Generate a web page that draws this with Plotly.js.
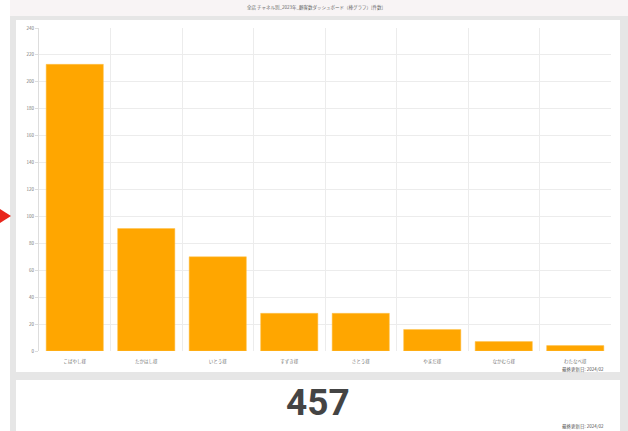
<!DOCTYPE html>
<html><head><meta charset="utf-8">
<script src="https://cdn.plot.ly/plotly-3.0.1.min.js"></script>
<style>
html,body{margin:0;padding:0;background:#ffffff;width:628px;height:431px;overflow:hidden;}
#wrap{position:relative;width:628px;height:431px;}
.bg{position:absolute;}
#chart{position:absolute;left:0;top:0;width:628px;height:431px;}
</style></head>
<body>
<div id="wrap">
  <div class="bg" style="left:10px;top:0;width:618px;height:16px;background:#f8f4f5;"></div>
  <div class="bg" style="left:10px;top:16px;width:618px;height:415px;background:#e6e6e6;"></div>
  <div class="bg" style="left:16px;top:20px;width:604px;height:352px;background:#ffffff;"></div>
  <div class="bg" style="left:16px;top:380px;width:604px;height:51px;background:#ffffff;"></div>
  <div class="bg" style="left:0;top:209px;width:0;height:0;border-top:7px solid transparent;border-bottom:7px solid transparent;border-left:11px solid #e8261c;"></div>
  <div id="chart"></div>
</div>
<script>
var categories = ["こばやし様", "たかはし様", "いとう様", "すずき様", "さとう様", "やまだ様", "なかむら様", "わたなべ様"];
var counts = [213, 91, 70, 28, 28, 16, 7, 4];
var yTicks = [0, 20, 40, 60, 80, 100, 120, 140, 160, 180, 200, 220, 240];
var titleText = "全店 チャネル別_2023年_顧客数ダッシュボード（棒グラフ）[件数]";
var totalLabel = "457";
var footerText = "最終更新日: 2024/02";

var W = 628, H = 431, L = 39, R = 17, T = 28, B = 80;
var pw = W - L - R, ph = H - T - B;
function px(x){ return (x - L) / pw; }
function py(y){ return (H - B - y) / ph; }

var trace = {
  type: "bar",
  x: categories,
  y: counts,
  marker: {color: "#FFA600", line: {color: "#FFC24D", width: 0.5}},
  hoverinfo: "x+y"
};

var layout = {
  width: W, height: H,
  margin: {l: L, r: R, t: T, b: B, pad: 0},
  paper_bgcolor: "rgba(0,0,0,0)",
  plot_bgcolor: "rgba(0,0,0,0)",
  showlegend: false,
  bargap: 0.2,
  font: {family: "Noto Sans CJK JP, Noto Sans, sans-serif", color: "#777", size: 5},
  xaxis: {
    type: "category",
    tickson: "boundaries",
    showgrid: true, gridcolor: "#ececec", gridwidth: 1,
    ticks: "", showline: false, zeroline: false,
    tickfont: {size: 4.5, color: "#777"},
    ticklabelstandoff: 6
  },
  yaxis: {
    range: [0, 240],
    tickvals: yTicks,
    ticktext: yTicks.map(String),
    showgrid: true, gridcolor: "#ececec", gridwidth: 1,
    showline: true, linecolor: "#dddddd", linewidth: 1,
    ticks: "outside", ticklen: 3, tickcolor: "#dddddd",
    zeroline: false,
    tickfont: {size: 4.5, color: "#777"}
  },
  annotations: [
    {text: titleText, xref: "paper", yref: "paper", x: px(315), y: py(8), showarrow: false,
     font: {size: 4.5, color: "#666"}, xanchor: "center", yanchor: "middle"},
    {text: footerText, xref: "paper", yref: "paper", x: px(606), y: py(369), showarrow: false,
     font: {size: 4.5, color: "#555"}, xanchor: "right", yanchor: "middle"},
    {text: "<b>" + totalLabel + "</b>", xref: "paper", yref: "paper", x: px(318), y: py(402), showarrow: false,
     font: {size: 37, color: "#444", family: "Roboto, Noto Sans, sans-serif"}, xanchor: "center", yanchor: "middle"},
    {text: footerText, xref: "paper", yref: "paper", x: px(606), y: py(426), showarrow: false,
     font: {size: 4.5, color: "#555"}, xanchor: "right", yanchor: "middle"}
  ]
};

Plotly.newPlot("chart", [trace], layout, {displayModeBar: false, responsive: false});
</script>
</body></html>
